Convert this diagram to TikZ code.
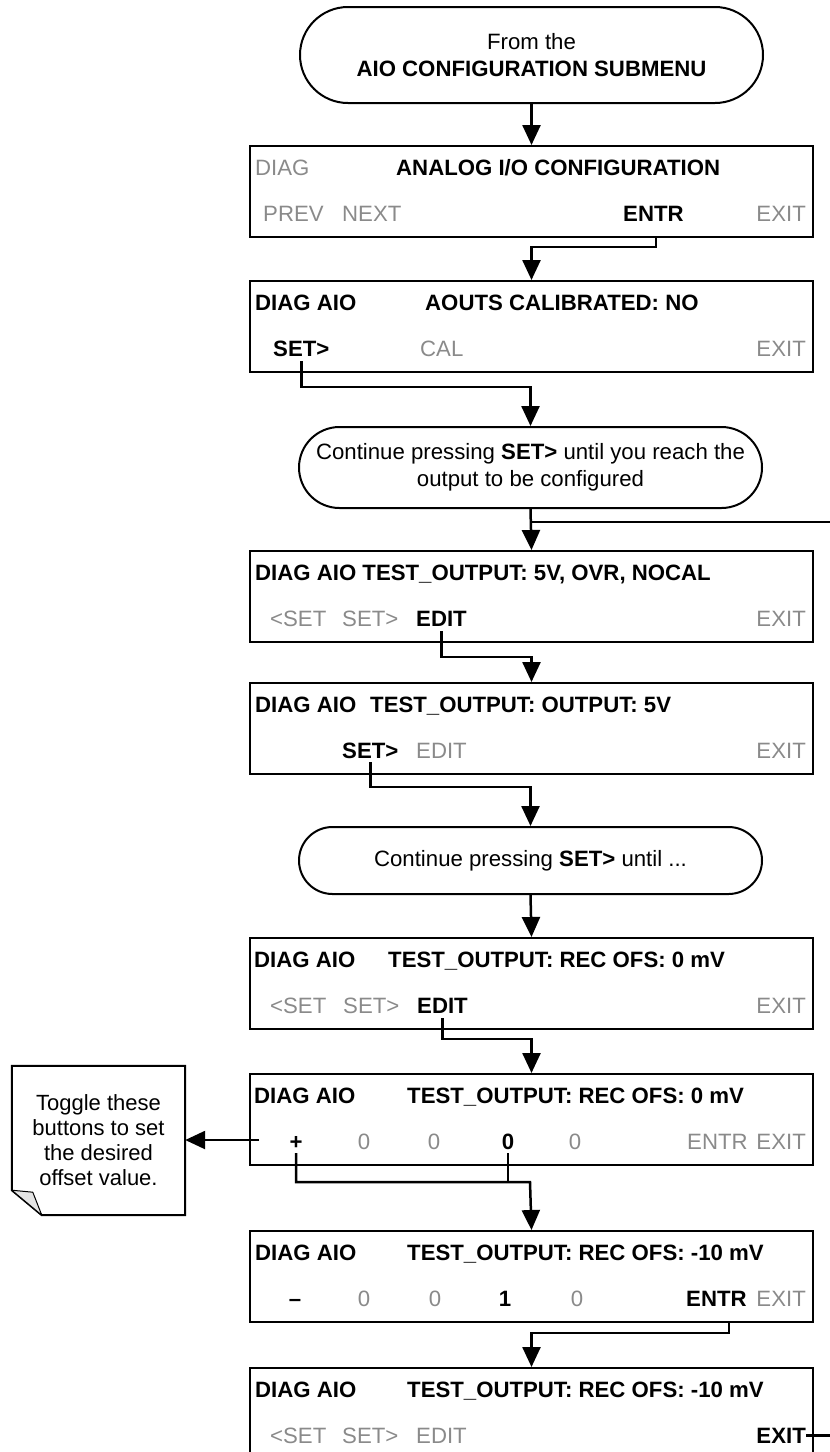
\documentclass[tikz,border=0pt]{standalone}
\usepackage{fontspec}
\setmainfont{Liberation Sans}
\usetikzlibrary{shapes.misc,arrows.meta,calc}
\definecolor{lgray}{HTML}{8A8A8A}
\newcommand\myfs{\fontsize{22.2}{26.5}\selectfont}
\begin{document}
\begin{tikzpicture}[x=1pt,y=-1pt,
  font=\myfs,
  scr/.style={draw, line width=2pt, minimum width=563pt, minimum height=91pt, inner sep=0pt, anchor=north west},
  term/.style={draw, rounded rectangle, line width=2pt, minimum width=463pt, inner sep=0pt, align=center},
  lb/.style={inner sep=0pt, anchor=base west, font=\myfs\bfseries},
  lg/.style={inner sep=0pt, anchor=base west, text=lgray},
  flow/.style={line width=2.5pt, -{Triangle[length=20pt,width=18pt]}},
  conn/.style={line width=2.5pt},
]
\useasboundingbox (0,0) rectangle (830,1452);
\clip (0,0) rectangle (830,1452);

% terminators
\node[term, minimum height=96pt] (t1) at (531.5,55) {From the\\\textbf{AIO CONFIGURATION SUBMENU}};
\node[term, minimum height=81pt] (t2) at (530.5,467.5) {Continue pressing \textbf{SET>} until you reach the\\output to be configured};
\node[term, minimum height=67pt] (t3) at (530.5,860.5) {Continue pressing \textbf{SET>} until ...};

% screens
\node[scr] (b1) at (249,145) {};
\node[scr] (b2) at (249,280) {};
\node[scr] (b3) at (249,550) {};
\node[scr] (b4) at (249,682) {};
\node[scr] (b5) at (249,937) {};
\node[scr] (b6) at (249,1073) {};
\node[scr] (b7) at (249,1230) {};
\node[scr, minimum height=100pt] (b8) at (249,1367) {};

% box 1
\node[lg] (d1) at (255,175) {DIAG};
\node[lb] (h1) at (396,175) {ANALOG I/O CONFIGURATION};
\node[lg] (pv1) at (263,221) {PREV};
\node[lg] (nx1) at (342,221) {NEXT};
\node[lb] (e1) at (623,221) {ENTR};
\node[lg, anchor=base east] (x1) at (806,221) {EXIT};
% box 2
\node[lb] (d2) at (255,310) {DIAG AIO};
\node[lb] (h2) at (425,310) {AOUTS CALIBRATED: NO};
\node[lb] (s2) at (273,356) {SET>};
\node[lg] (cal2) at (420,356) {CAL};
\node[lg, anchor=base east] (x2) at (806,356) {EXIT};
% box 3
\node[lb] (d3) at (255,580) {DIAG AIO TEST\_OUTPUT: 5V, OVR, NOCAL};
\node[lg] (ls3) at (270,626) {<SET};
\node[lg] (s3) at (342,626) {SET>};
\node[lb] (ed3) at (416,626) {EDIT};
\node[lg, anchor=base east] (x3) at (806,626) {EXIT};
% box 4
\node[lb] (d4) at (255,712) {DIAG AIO};
\node[lb] (h4) at (370,712) {TEST\_OUTPUT: OUTPUT: 5V};
\node[lb] (s4) at (342,758) {SET>};
\node[lg] (ed4) at (416,758) {EDIT};
\node[lg, anchor=base east] (x4) at (806,758) {EXIT};
% box 5
\node[lb] (d5) at (254,967) {DIAG AIO};
\node[lb] (h5) at (388,967) {TEST\_OUTPUT: REC OFS: 0 mV};
\node[lg] (ls5) at (270,1013) {<SET};
\node[lg] (s5) at (343,1013) {SET>};
\node[lb] (ed5) at (417,1013) {EDIT};
\node[lg, anchor=base east] (x5) at (806,1013) {EXIT};
% box 6
\node[lb] (d6) at (254,1103) {DIAG AIO};
\node[lb] (h6) at (407,1103) {TEST\_OUTPUT: REC OFS: 0 mV};
\node[lb, anchor=base] (p6) at (296,1149) {+};
\node[lg, anchor=base] (a6) at (364,1149) {0};
\node[lg, anchor=base] (c6) at (434,1149) {0};
\node[lb, anchor=base] (z6) at (508,1149) {0};
\node[lg, anchor=base] (f6) at (575,1149) {0};
\node[lg] (e6) at (687,1149) {ENTR};
\node[lg, anchor=base east] (x6) at (806,1149) {EXIT};
% box 7
\node[lb] (d7) at (255,1260) {DIAG AIO};
\node[lb] (h7) at (407,1260) {TEST\_OUTPUT: REC OFS: -10 mV};
\node[lb, anchor=base] (m7) at (295,1306) {–};
\node[lg, anchor=base] (a7) at (364,1306) {0};
\node[lg, anchor=base] (c7) at (435,1306) {0};
\node[lb, anchor=base] (o7) at (505,1306) {1};
\node[lg, anchor=base] (f7) at (577,1306) {0};
\node[lb] (e7) at (686,1306) {ENTR};
\node[lg, anchor=base east] (x7) at (806,1306) {EXIT};
% box 8
\node[lb] (d8) at (255,1397) {DIAG AIO};
\node[lb] (h8) at (407,1397) {TEST\_OUTPUT: REC OFS: -10 mV};
\node[lg] (ls8) at (270,1443) {<SET};
\node[lg] (s8) at (342,1443) {SET>};
\node[lg] (ed8) at (416,1443) {EDIT};
\node[lb, anchor=base east] (x8) at (806,1443) {EXIT};

% note
\node[inner sep=0pt, minimum width=173pt, minimum height=149pt, align=center,
      font=\fontsize{22}{25}\selectfont] (note) at (98.5,1140.5)
      {Toggle these\\buttons to set\\the desired\\offset value.};
\draw[line width=2pt] (note.north west) -- (note.north east) -- (note.south east)
  -- ($(note.south west)+(30,0)$) -- ($(note.south west)+(0,-25)$) -- cycle;
\draw[line width=1pt, fill=gray!20, line join=round] ($(note.south west)+(0,-25)$)
  -- ($(note.south west)+(21,-23)$) -- ($(note.south west)+(30,0)$) -- cycle;

% connectors
\coordinate (j1) at (530,522);
\coordinate (j2) at (530,1182);
\coordinate (cs) at (259,1140);
\draw[flow] (t1.south) -- (b1.north);
\draw[flow] ($(b1.south west)+(407,0)$) |- ([yshift=33pt]b2.north) -- (b2.north);
\draw[flow] ([yshift=-5pt]s2.south) |- ([yshift=39pt]t2.north) -- (t2.north);
\draw[flow] (t2.south) -- (b3.north);
\draw[conn] (x8.east) -- ++(40,0) |- (j1);
\draw[flow] ([yshift=-5pt]ed3.south) |- ([yshift=25pt]b4.north) -- (b4.north);
\draw[flow] ([yshift=-4pt]s4.south) |- ([yshift=39pt]t3.north) -- (t3.north);
\draw[flow] (t3.south) -- (b5.north);
\draw[flow] ([yshift=-5pt]ed5.south) |- ([yshift=34pt]b6.north) -- (b6.north);
\draw[flow] ([yshift=-4pt]p6.south) |- (j2) -- (b7.north);
\draw[conn] ([yshift=-4pt]z6.south) -- (z6.south |- j2);
\draw[flow] (cs) -- (note.east |- cs);
\draw[flow] ($(b7.south west)+(480,0)$) |- ([yshift=34pt]b8.north) -- (b8.north);
\end{tikzpicture}
\end{document}
